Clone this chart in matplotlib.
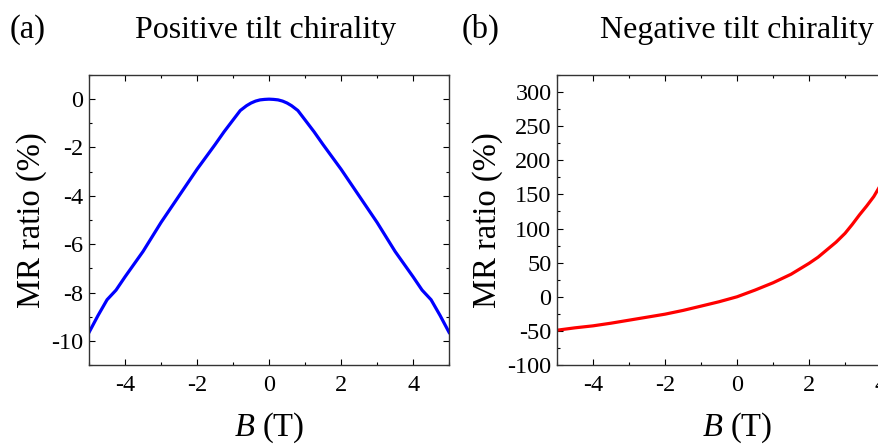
import matplotlib
matplotlib.use('Agg')
import matplotlib.pyplot as plt
from matplotlib.ticker import MultipleLocator

plt.rcParams['font.family'] = 'Liberation Serif'
plt.rcParams['mathtext.fontset'] = 'custom'
plt.rcParams['mathtext.rm'] = 'Liberation Serif'
plt.rcParams['mathtext.it'] = 'Liberation Serif:italic'
plt.rcParams['axes.unicode_minus'] = False

# panel (a): positive tilt chirality
b_pos = [-5.0, -4.75, -4.5, -4.25, -4.0, -3.5, -3.0, -2.5, -2.0, -1.5, -1.25,
         -1.0, -0.8, -0.625, -0.5, -0.375, -0.25, -0.125, 0.0,
         0.125, 0.25, 0.375, 0.5, 0.625, 0.8, 1.0, 1.25, 1.5,
         2.0, 2.5, 3.0, 3.5, 4.0, 4.25, 4.5, 4.75, 5.0]
mr_pos = [-9.65, -8.95, -8.3, -7.9, -7.35, -6.3, -5.1, -4.0, -2.9, -1.88, -1.35,
          -0.86, -0.47, -0.27, -0.16, -0.08, -0.03, -0.01, 0.0,
          -0.01, -0.03, -0.08, -0.16, -0.27, -0.47, -0.86, -1.35, -1.88,
          -2.9, -4.0, -5.1, -6.3, -7.35, -7.9, -8.3, -8.95, -9.65]

# panel (b): negative tilt chirality
b_neg = [-5.0, -4.5, -4.0, -3.5, -3.0, -2.5, -2.0, -1.5, -1.0, -0.5, 0.0, 0.5,
         1.0, 1.5, 2.0, 2.25, 2.5, 2.75, 3.0, 3.2, 3.4, 3.6, 3.8, 4.0]
mr_neg = [-49, -45.5, -42.6, -38.7, -34.3, -29.9, -25.5, -20, -13.7, -7.3, 0, 9.8,
          20.5, 33, 49, 58, 69, 80, 93, 106, 120, 133, 147, 165]

fig = plt.figure(figsize=(8.79, 4.44), dpi=100)
ax1 = fig.add_axes([0.1013, 0.1779, 0.4096, 0.6532])
ax2 = fig.add_axes([0.6337, 0.1779, 0.4096, 0.6532])

ax1.plot(b_pos, mr_pos, color='#0000ff', lw=2.3)
ax2.plot(b_neg, mr_neg, color='#ff0000', lw=2.3)

ax1.set_ylim(-11, 1)
ax1.yaxis.set_major_locator(MultipleLocator(2))
ax1.yaxis.set_minor_locator(MultipleLocator(1))
ax2.set_ylim(-100, 325)
ax2.yaxis.set_major_locator(MultipleLocator(50))
ax2.yaxis.set_minor_locator(MultipleLocator(25))

for ax, lx in [(ax1, -0.117), (ax2, -0.15)]:
    ax.set_xlim(-5, 5)
    ax.xaxis.set_major_locator(MultipleLocator(2))
    ax.xaxis.set_minor_locator(MultipleLocator(1))
    ax.tick_params(which='both', direction='in', top=True, right=True, width=0.8)
    ax.tick_params(which='major', length=4, labelsize=17.5)
    ax.tick_params(which='minor', length=2.2)
    ax.tick_params(axis='x', pad=7)
    ax.tick_params(axis='y', pad=4)
    for s in ax.spines.values():
        s.set_linewidth(1.0)
        s.set_color('#333333')
    ax.set_ylabel('MR ratio (%)', fontsize=23.5)
    ax.set_xlabel('$B$ (T)', fontsize=23.5)
    ax.yaxis.set_label_coords(lx, 0.5)
    ax.xaxis.set_label_coords(0.5, -0.158)

fig.text(0.0114, 0.9144, '(a)', fontsize=23.5, va='baseline', ha='left')
fig.text(0.3026, 0.9144, 'Positive tilt chirality', fontsize=23, va='baseline', ha='center')
fig.text(0.5256, 0.9144, '(b)', fontsize=23.5, va='baseline', ha='left')
fig.text(0.8385, 0.9144, 'Negative tilt chirality', fontsize=23, va='baseline', ha='center')

plt.savefig('out.png', dpi=100)
